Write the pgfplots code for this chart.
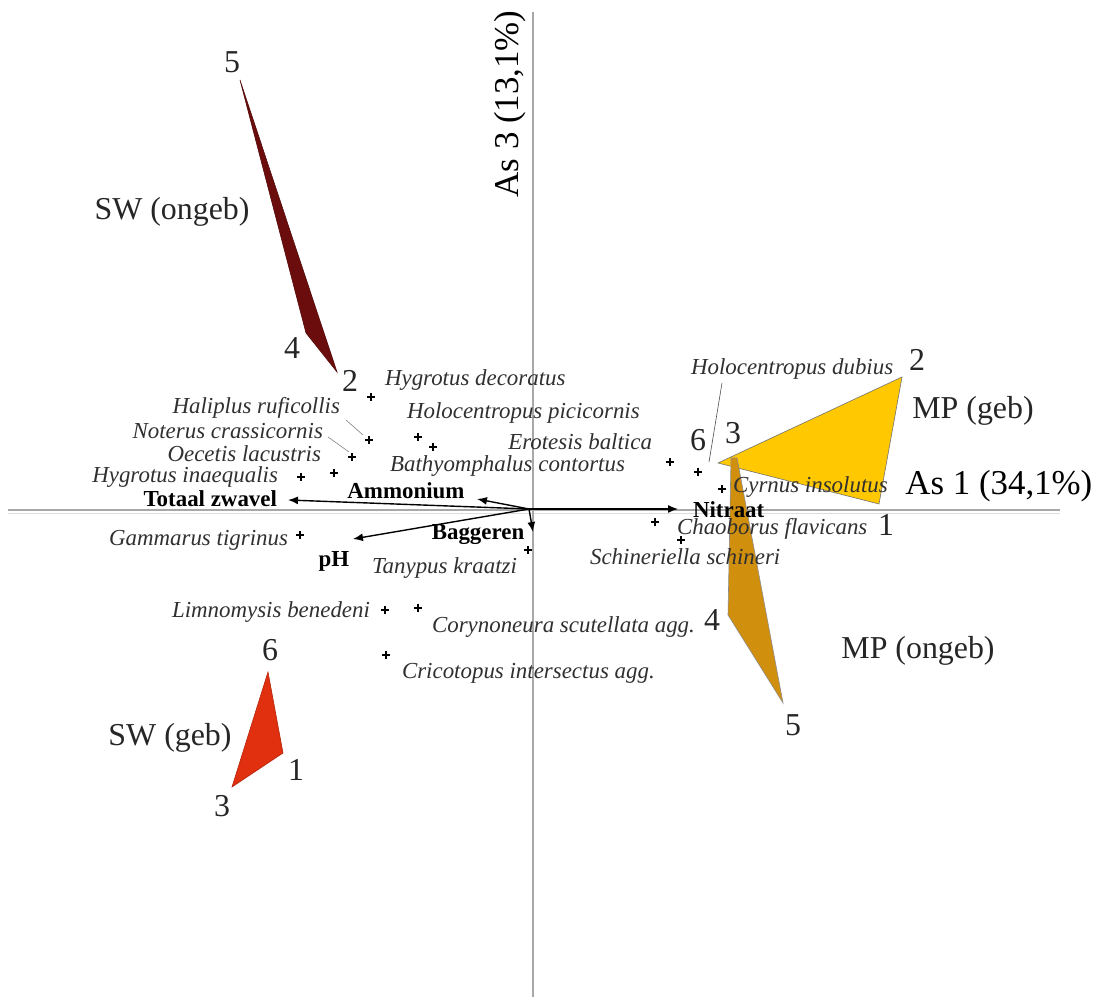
\documentclass[border=0pt]{standalone}
\usepackage{pgfplots}
\pgfplotsset{compat=1.18}
\usepackage{pgfplotstable}
\usepackage{fontspec}
\setmainfont{Liberation Serif}
\usetikzlibrary{arrows.meta}

\definecolor{swongeb}{HTML}{6B0D0D}
\definecolor{swgeb}{HTML}{E0300F}
\definecolor{mpgeb}{HTML}{FFC800}
\definecolor{mpongeb}{HTML}{D18F0E}
\definecolor{axgray}{HTML}{A8A8A8}
\definecolor{spec}{HTML}{303030}

% species scores (As 1, As 3)
\pgfplotstableread{
x      y
-1.62  1.13
-1.64  0.70
-1.15  0.73
-1.00  0.63
-1.81  0.53
-1.99  0.37
-2.32  0.33
-2.33 -0.25
-0.05 -0.40
-1.48 -1.00
-1.15 -0.98
-1.47 -1.45
 1.37  0.48
 1.65  0.38
 1.89  0.21
 1.22 -0.12
 1.48 -0.30
}\species

\newcommand{\spf}{\fontsize{11.5}{12}\selectfont\itshape\color{spec}}
\newcommand{\envf}{\fontsize{11.5}{12}\selectfont\bfseries}
\newcommand{\numf}{\fontsize{16}{17}\selectfont\color{black!85}}

\begin{document}
\begin{tikzpicture}
\begin{axis}[
  width=548bp, height=499.5bp, scale only axis,
  xmin=-5.33, xmax=5.63, ymin=-4.89, ymax=5.10,
  axis lines=none, xtick=\empty, ytick=\empty,
  clip=false,
]
\path (rel axis cs:0,0) rectangle (rel axis cs:1,1);

% ordination axes
\draw[axgray, line width=1.1pt] (axis cs:-5.25,0) -- (axis cs:5.27,0);
\draw[axgray!40, line width=0.6pt] (axis cs:-5.25,-0.035) -- (axis cs:5.27,-0.035);
\draw[axgray, line width=1.4pt] (axis cs:0,4.98) -- (axis cs:0,-4.87);

% site groups
\addplot[fill=mpgeb, draw=black!55, line width=0.3pt] coordinates {(1.85,0.47) (3.69,1.33) (3.46,0.06)} -- cycle;
\addplot[fill=mpongeb, draw=black!45, line width=0.3pt] coordinates {(1.98,0.52) (2.04,0.52) (2.50,-1.93) (1.95,-1.05)} -- cycle;
\addplot[fill=swongeb, draw=swongeb!80!black, line width=0.3pt] coordinates {(-2.93,4.30) (-2.27,1.77) (-1.96,1.38)} -- cycle;
\addplot[fill=swgeb, draw=swgeb!80!black, line width=0.3pt] coordinates {(-2.65,-1.62) (-2.50,-2.43) (-3.01,-2.77)} -- cycle;

% environmental vectors
\pgfplotsset{envvec/.style={-{Latex[length=5pt,width=4pt]}, line width=0.7pt, black}}
\addplot[envvec] coordinates {(-0.04,0.01) (-2.45,0.10)};
\addplot[envvec] coordinates {(-0.04,0.01) (-0.56,0.11)};
\addplot[envvec] coordinates {(-0.04,0.01) (-1.80,-0.29)};
\addplot[envvec] coordinates {(-0.04,0.01) (0.00,-0.22)};
\addplot[envvec] coordinates {(-0.04,0.01) (1.45,0.01)};

% species
\addplot[only marks, mark=+, mark size=1.8pt, line width=1.2pt, black] table[x=x,y=y] {\species};

% leader lines
\draw[black!50, line width=0.3pt] (axis cs:-1.87,0.90) -- (axis cs:-1.70,0.75);
\draw[black!50, line width=0.3pt] (axis cs:-2.05,0.73) -- (axis cs:-1.84,0.58);
\draw[black!70, line width=0.3pt] (axis cs:1.89,1.27) -- (axis cs:1.76,0.48);

% species labels
\node[anchor=west] at (axis cs:-1.55,1.30) {\spf Hygrotus decoratus};
\node[anchor=west] at (axis cs:-1.33,0.97) {\spf Holocentropus picicornis};
\node[anchor=west] at (axis cs:-1.50,0.44) {\spf Bathyomphalus contortus};
\node[anchor=east] at (axis cs:-1.86,1.02) {\spf Haliplus ruficollis};
\node[anchor=east] at (axis cs:-2.03,0.79) {\spf Noterus crassicornis};
\node[anchor=east] at (axis cs:-2.05,0.56) {\spf Oecetis lacustris};
\node[anchor=east] at (axis cs:-2.48,0.33) {\spf Hygrotus inaequalis};
\node[anchor=east] at (axis cs:-2.38,-0.30) {\spf Gammarus tigrinus};
\node[anchor=east] at (axis cs:-0.09,-0.58) {\spf Tanypus kraatzi};
\node[anchor=east] at (axis cs:-1.56,-1.02) {\spf Limnomysis benedeni};
\node[anchor=west] at (axis cs:-1.08,-1.17) {\spf Corynoneura scutellata agg.};
\node[anchor=west] at (axis cs:-1.38,-1.63) {\spf Cricotopus intersectus agg.};
\node[anchor=east] at (axis cs:1.26,0.68) {\spf Erotesis baltica};
\node[anchor=west] at (axis cs:1.51,1.41) {\spf Holocentropus dubius};
\node[anchor=west] at (axis cs:1.93,0.23) {\spf Cyrnus insolutus};
\node[anchor=west] at (axis cs:1.37,-0.19) {\spf Chaoborus flavicans};
\node[anchor=west] at (axis cs:0.50,-0.47) {\spf Schineriella schineri};

% environmental labels
\node[anchor=east] at (axis cs:-2.49,0.11) {\envf Totaal zwavel};
\node at (axis cs:-1.27,0.19) {\envf Ammonium};
\node at (axis cs:-0.55,-0.25) {\envf Baggeren};
\node at (axis cs:-1.99,-0.51) {\envf pH};
\node[anchor=west] at (axis cs:1.53,0.00) {\envf Nitraat};

% site numbers
\node at (axis cs:-3.01,4.48) {\numf 5};
\node at (axis cs:-2.41,1.62) {\numf 4};
\node at (axis cs:-1.83,1.29) {\numf 2};
\node at (axis cs:3.84,1.50) {\numf 2};
\node at (axis cs:1.65,0.70) {\numf 6};
\node at (axis cs:2.00,0.77) {\numf 3};
\node at (axis cs:3.53,-0.15) {\numf 1};
\node at (axis cs:1.79,-1.10) {\numf 4};
\node at (axis cs:2.60,-2.15) {\numf 5};
\node at (axis cs:-2.63,-1.40) {\numf 6};
\node at (axis cs:-2.37,-2.60) {\numf 1};
\node at (axis cs:-3.11,-2.96) {\numf 3};

% group names
\node at (axis cs:-3.61,2.98) {\numf SW (ongeb)};
\node at (axis cs:4.40,0.99) {\numf MP (geb)};
\node at (axis cs:3.85,-1.41) {\numf MP (ongeb)};
\node at (axis cs:-3.63,-2.28) {\numf SW (geb)};

% axis titles
\node[anchor=west, inner sep=0pt] at (axis cs:3.72,0.24) {\fontsize{17.5}{18}\selectfont As 1 (34,1\%)};
\node[rotate=90, inner sep=0pt] at (axis cs:-0.23,4.06) {\fontsize{17.5}{18}\selectfont As 3 (13,1\%)};
\end{axis}
\end{tikzpicture}
\end{document}
